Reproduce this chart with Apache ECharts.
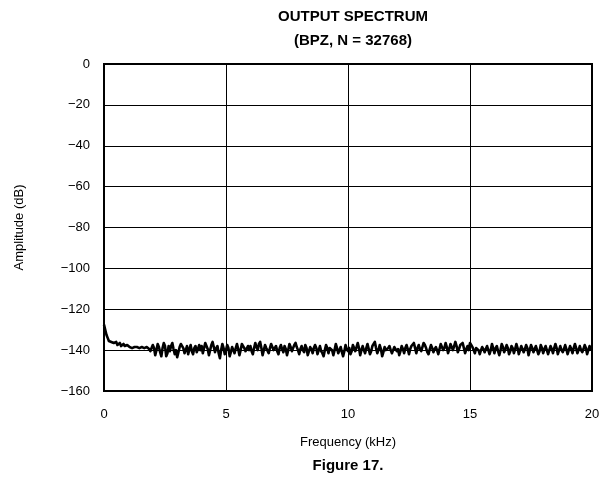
<!DOCTYPE html>
<html><head><meta charset="utf-8">
<script src="https://cdn.jsdelivr.net/npm/echarts@6/dist/echarts.min.js"></script>
<style>html,body{margin:0;padding:0;background:#fff}#c{width:603px;height:487px}</style>
</head><body><div id="c"></div>
<script>
var xStart = 0;
var xStep = 0.05;
var amplitude = [
-127.5,-130,-132.5,-134,-135.5,-135,-136,-135.5,-136.5,-137,
-136,-137.5,-137,-136.5,-138,-137.5,-137,-138,-138.5,-137.5,
-138,-138.5,-138,-139,-138.5,-138.5,-139,-138.5,-139,-139,
-139,-138.5,-139,-139,-139,-138.5,-139,-139.5,-140.5,-139,
-137.5,-139,-142.5,-140,-137,-138.5,-141,-143,-139,-136.5,
-138,-143,-141.5,-138,-140.5,-138,-136.5,-139.5,-142,-140,
-143.5,-141,-138.5,-137,-136.5,-139,-141.5,-140,-138,-142,
-139.5,-137.5,-140.5,-142,-139,-138,-141,-139.5,-137.5,-140,
-138,-141.5,-139,-136.5,-138,-139.5,-142.5,-140,-137.5,-136,
-138.5,-141,-139,-138,-141.5,-144,-140,-137,-139,-142,
-140,-137.5,-139,-143,-141,-138.5,-140,-141.5,-139,-137,
-139.5,-142.5,-140,-137,-136.5,-139,-140.5,-141,-138,-140,
-138,-140.5,-142,-139,-136.5,-138.5,-140,-137,-136,-139,
-142.5,-140,-137.5,-139,-139.5,-141.5,-139,-137,-138.5,-140,
-139.5,-138,-140.5,-142,-139,-137.5,-139.5,-141,-138,-139.5,
-142.5,-140,-137,-138.5,-140.5,-139,-137.5,-136.5,-138.5,-140,
-142,-139.5,-138,-140,-141,-137.5,-139,-142.5,-140.5,-138.5,
-139.5,-141.5,-139,-137.5,-139,-142,-140,-138,-140.5,-141.5,
-143,-140,-137.5,-139,-141.5,-139,-138.5,-140,-142.5,-140,
-137,-139,-141.5,-140,-138.5,-141,-143,-140.5,-137.5,-139.5,
-140.5,-139,-142,-140.5,-137.5,-139,-140.5,-138.5,-136.5,-139,
-142.5,-140,-138,-140,-141.5,-139,-137,-139.5,-142,-140.5,
-138,-137.5,-136,-139,-141.5,-140,-137.5,-139.5,-143,-141,
-138.5,-140,-140.5,-139,-138,-140,-141.5,-140,-138.5,-139.5,
-140.5,-139.5,-142.5,-140.5,-138,-139.5,-141.5,-139,-137.5,-139.5,
-142,-139.5,-138,-137.5,-136.5,-139,-141.5,-139,-137.5,-139.5,
-140.5,-138.5,-136.5,-137.5,-139,-141,-142,-139.5,-137.5,-139,
-141,-139.5,-138.5,-140,-142,-139.5,-137,-138.5,-140,-139,
-136.5,-138.5,-141.5,-139.5,-137,-138.5,-140,-138,-136,-138,
-141,-139.5,-137.5,-138,-136.5,-139,-141.5,-139.5,-138,-140,
-136.5,-137.5,-138.5,-140,-141.5,-139,-138.5,-140,-142,-140,
-138.5,-139.5,-141,-139.5,-138,-140,-142,-140,-137,-139,
-141.5,-139,-138,-140.5,-142.5,-140,-137,-138.5,-141,-139.5,
-137.5,-139,-142,-140.5,-138,-139,-141.5,-139.5,-137,-139,
-142,-140,-138,-139.5,-141,-139.5,-137.5,-139,-142.5,-140,
-137.5,-139,-141,-139.5,-138,-140,-142,-140.5,-137.5,-139,
-141.5,-139.5,-138,-140,-142,-140,-138,-139.5,-141.5,-139,
-137,-139,-142,-140,-138,-140,-141,-139.5,-137.5,-139.5,
-142,-140,-138,-139.5,-141.5,-139,-137,-139,-141.5,-140,
-138,-140,-141,-139.5,-137.5,-139,-142,-140,-138,-139.5,
-140
];
var xTicks = [0, 5, 10, 15, 20];
var yTicks = [0, -20, -40, -60, -80, -100, -120, -140, -160];

var data = amplitude.map(function (v, i) { return [+(xStart + i * xStep).toFixed(2), v]; });
var font = 'Liberation Sans, Arial, Helvetica, sans-serif';
var chart = echarts.init(document.getElementById('c'), null, {renderer: 'canvas'});
chart.setOption({
  animation: false,
  backgroundColor: '#fff',
  title: {
    text: 'OUTPUT SPECTRUM\n(BPZ, N = 32768)',
    left: 348, top: 0, textAlign: 'center',
    textStyle: {fontFamily: font, fontSize: 15, fontWeight: 'bold', color: '#000', lineHeight: 24}
  },
  graphic: [{
    type: 'text', x: 348, y: 466,
    style: {text: 'Figure 17.', font: 'bold 15px ' + font, fill: '#000', textAlign: 'center', textVerticalAlign: 'middle'}
  }],
  grid: {left: 104, right: 11, top: 64, bottom: 96, show: true, borderColor: '#000', borderWidth: 2},
  xAxis: {
    type: 'value', min: 0, max: 20, interval: 5,
    name: 'Frequency (kHz)', nameLocation: 'middle', nameGap: 45,
    nameTextStyle: {fontFamily: font, fontSize: 13, color: '#000'},
    axisLine: {show: true, lineStyle: {color: '#000', width: 2}},
    axisTick: {show: false},
    axisLabel: {fontFamily: font, fontSize: 13, color: '#000', margin: 17},
    splitLine: {show: true, lineStyle: {color: '#000', width: 1}}
  },
  yAxis: {
    type: 'value', min: -160, max: 0, interval: 20,
    name: 'Amplitude (dB)', nameLocation: 'middle', nameGap: 78,
    nameTextStyle: {fontFamily: font, fontSize: 13, color: '#000'},
    axisLine: {show: true, lineStyle: {color: '#000', width: 2}},
    axisTick: {show: false},
    axisLabel: {fontFamily: font, fontSize: 13, color: '#000', margin: 14,
      formatter: function (v) { return String(v).replace('-', '\u2212'); }},
    splitLine: {show: true, lineStyle: {color: '#000', width: 1}}
  },
  series: [{
    type: 'line', data: data, showSymbol: false, smooth: false,
    lineStyle: {color: '#000', width: 2.6, join: 'round'}
  }]
});
</script></body></html>
